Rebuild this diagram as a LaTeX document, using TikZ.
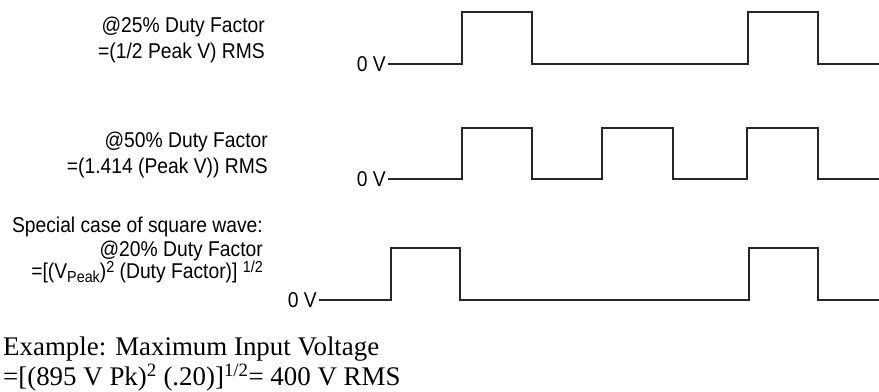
\documentclass[tikz,border=0pt]{standalone}
\usepackage{fontspec}
\setmainfont{Liberation Serif}
\newfontfamily\narrowsans[FakeStretch=0.9]{Liberation Sans}
\usepackage{tikz}
\usetikzlibrary{positioning}

\newcommand{\upsmall}[1]{\raisebox{0.27em}{\fontsize{16}{16}\selectfont #1}}
\newcommand{\downsmall}[1]{\raisebox{-0.22em}{\fontsize{16}{16}\selectfont #1}}

\begin{document}
\begin{tikzpicture}[
  x=1bp, y=-1bp,
  label/.style={inner sep=0pt, anchor=base east, font=\narrowsans\fontsize{21.5}{26}\selectfont},
  zero/.style={inner sep=0pt, anchor=east, font=\narrowsans\fontsize{21.5}{26}\selectfont},
  note/.style={inner sep=0pt, anchor=base west, font=\fontsize{27}{31}\selectfont},
  wave/.style={line width=1.1bp, black!85}
]
  \useasboundingbox (0,0) rectangle (879,391);

  % --- labels: \node (id) [style] at (x,y) {text}; ---
  \node (qa) [label] at (265,32)  {@25\% Duty Factor};
  \node (qb) [label] at (265,58)  {=(1/2 Peak V) RMS};
  \node (ha) [label] at (268,147) {@50\% Duty Factor};
  \node (hb) [label] at (268,173) {=(1.414 (Peak V)) RMS};
  \node (sa) [label] at (263,232) {Special case of square wave:};
  \node (sb) [label] at (263,256) {@20\% Duty Factor};
  \node (sc) [label] at (263,278) {=[(V\downsmall{Peak})\upsmall{2} (Duty Factor)] \upsmall{1/2}};

  % --- zero levels ---
  \node (zq) [zero] at (386,64)  {0 V};
  \node (zh) [zero] at (386,179) {0 V};
  \node (zs) [zero] at (317,300) {0 V};

  % --- waves: low level from the 0 V node, then the pulses ---
  \draw[wave] ([xshift=2bp]zq.east) -- (462,64) -- (462,12) -- (532,12) -- (532,64)
    -- (748,64) -- (748,12) -- (818,12) -- (818,64) -- (879,64);
  \draw[wave] ([xshift=2bp]zh.east) -- (462,179) -- (462,128) -- (532,128) -- (532,179)
    -- (602,179) -- (602,128) -- (673,128) -- (673,179)
    -- (747,179) -- (747,128) -- (818,128) -- (818,179) -- (879,179);
  \draw[wave] ([xshift=2bp]zs.east) -- (391,300) -- (391,248) -- (460,248) -- (460,300)
    -- (749,300) -- (749,248) -- (818,248) -- (818,300) -- (879,300);

  % --- example ---
  \node (ex) [note] at (3,355) {Example: Maximum Input Voltage};
  \node (ev) [note] at (3,385) {=[(895 V Pk)\textsuperscript{2} (.20)]\textsuperscript{1/2}= 400 V RMS};
\end{tikzpicture}
\end{document}
